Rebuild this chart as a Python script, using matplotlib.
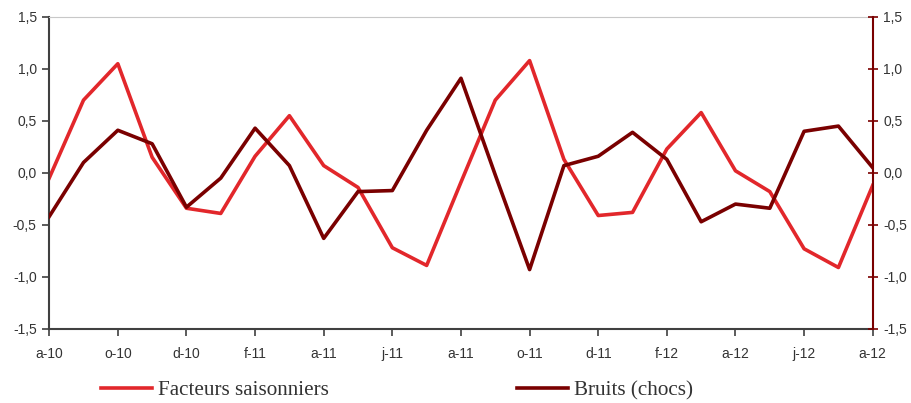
import matplotlib.pyplot as plt
from matplotlib.ticker import FuncFormatter

# mensuel, août 2010 -> août 2012
mois = ['a-10', 's-10', 'o-10', 'n-10', 'd-10', 'j-11', 'f-11', 'm-11', 'a-11', 'm-11',
        'j-11', 'j-11', 'a-11', 's-11', 'o-11', 'n-11', 'd-11', 'j-12', 'f-12', 'm-12',
        'a-12', 'm-12', 'j-12', 'j-12', 'a-12']
saisonniers = [-0.05, 0.70, 1.05, 0.15, -0.34, -0.39, 0.16, 0.55, 0.07, -0.14,
               -0.72, -0.89, -0.09, 0.70, 1.08, 0.13, -0.41, -0.38, 0.23, 0.58,
               0.02, -0.18, -0.73, -0.91, -0.12]
bruits = [-0.42, 0.10, 0.41, 0.28, -0.33, -0.05, 0.43, 0.07, -0.63, -0.18,
          -0.17, 0.41, 0.91, -0.02, -0.93, 0.07, 0.16, 0.39, 0.13, -0.47,
          -0.30, -0.34, 0.40, 0.45, 0.05]

rouge = '#e2272b'
bordeaux = '#7a0000'
gris = '#404040'

fig = plt.figure(figsize=(9.11, 4.03), dpi=100)
ax = fig.add_axes([0.054, 0.184, 0.904, 0.774])
ax2 = ax.twinx()

x = list(range(len(mois)))
l1, = ax.plot(x, saisonniers, color=rouge, lw=2.6, label='Facteurs saisonniers')
l2, = ax2.plot(x, bruits, color=bordeaux, lw=2.6, label='Bruits (chocs)')

virgule = FuncFormatter(lambda v, p: f'{v:.1f}'.replace('.', ','))
for a in (ax, ax2):
    a.set_ylim(-1.5, 1.5)
    a.set_yticks([-1.5, -1.0, -0.5, 0.0, 0.5, 1.0, 1.5])
    a.yaxis.set_major_formatter(virgule)
    a.set_xlim(0, len(mois) - 1)

ax.set_xticks(x[::2])
ax.set_xticklabels(mois[::2])

ax.spines['top'].set_color('#c8c8c8')
ax2.spines['top'].set_visible(False)
ax.spines['right'].set_visible(False)
ax2.spines['left'].set_visible(False)
ax2.spines['bottom'].set_visible(False)
ax.spines['left'].set_color(gris)
ax.spines['bottom'].set_color(gris)
ax.spines['left'].set_linewidth(1.5)
ax.spines['bottom'].set_linewidth(1.5)
ax2.spines['right'].set_color(bordeaux)
ax2.spines['right'].set_linewidth(1.5)

police = ['Liberation Sans', 'DejaVu Sans']
ax.tick_params(axis='y', colors=gris, labelcolor='#333333', length=5, width=1.2, labelsize=10, pad=4)
ax.tick_params(axis='x', colors=gris, labelcolor='#333333', length=5, width=1.2, labelsize=10, pad=8)
ax2.tick_params(axis='y', colors=bordeaux, labelcolor='#333333', direction='inout', length=7, width=1.2, labelsize=10, pad=4)
for lab in ax.get_xticklabels() + ax.get_yticklabels() + ax2.get_yticklabels():
    lab.set_family(police)

serif = {'family': ['Liberation Serif', 'DejaVu Serif'], 'size': 15.2}
leg1 = fig.legend([l1], ['Facteurs saisonniers'], loc='center left',
                  bbox_to_anchor=(0.090, 0.032), frameon=False, handlelength=2.4,
                  handletextpad=0.3, prop=serif)
leg1.get_texts()[0].set_color('#333333')
leg2 = fig.legend([l2], ['Bruits (chocs)'], loc='center left',
                  bbox_to_anchor=(0.547, 0.032), frameon=False, handlelength=2.4,
                  handletextpad=0.3, prop=serif)
leg2.get_texts()[0].set_color('#333333')

fig.savefig('out.png', dpi=100)
